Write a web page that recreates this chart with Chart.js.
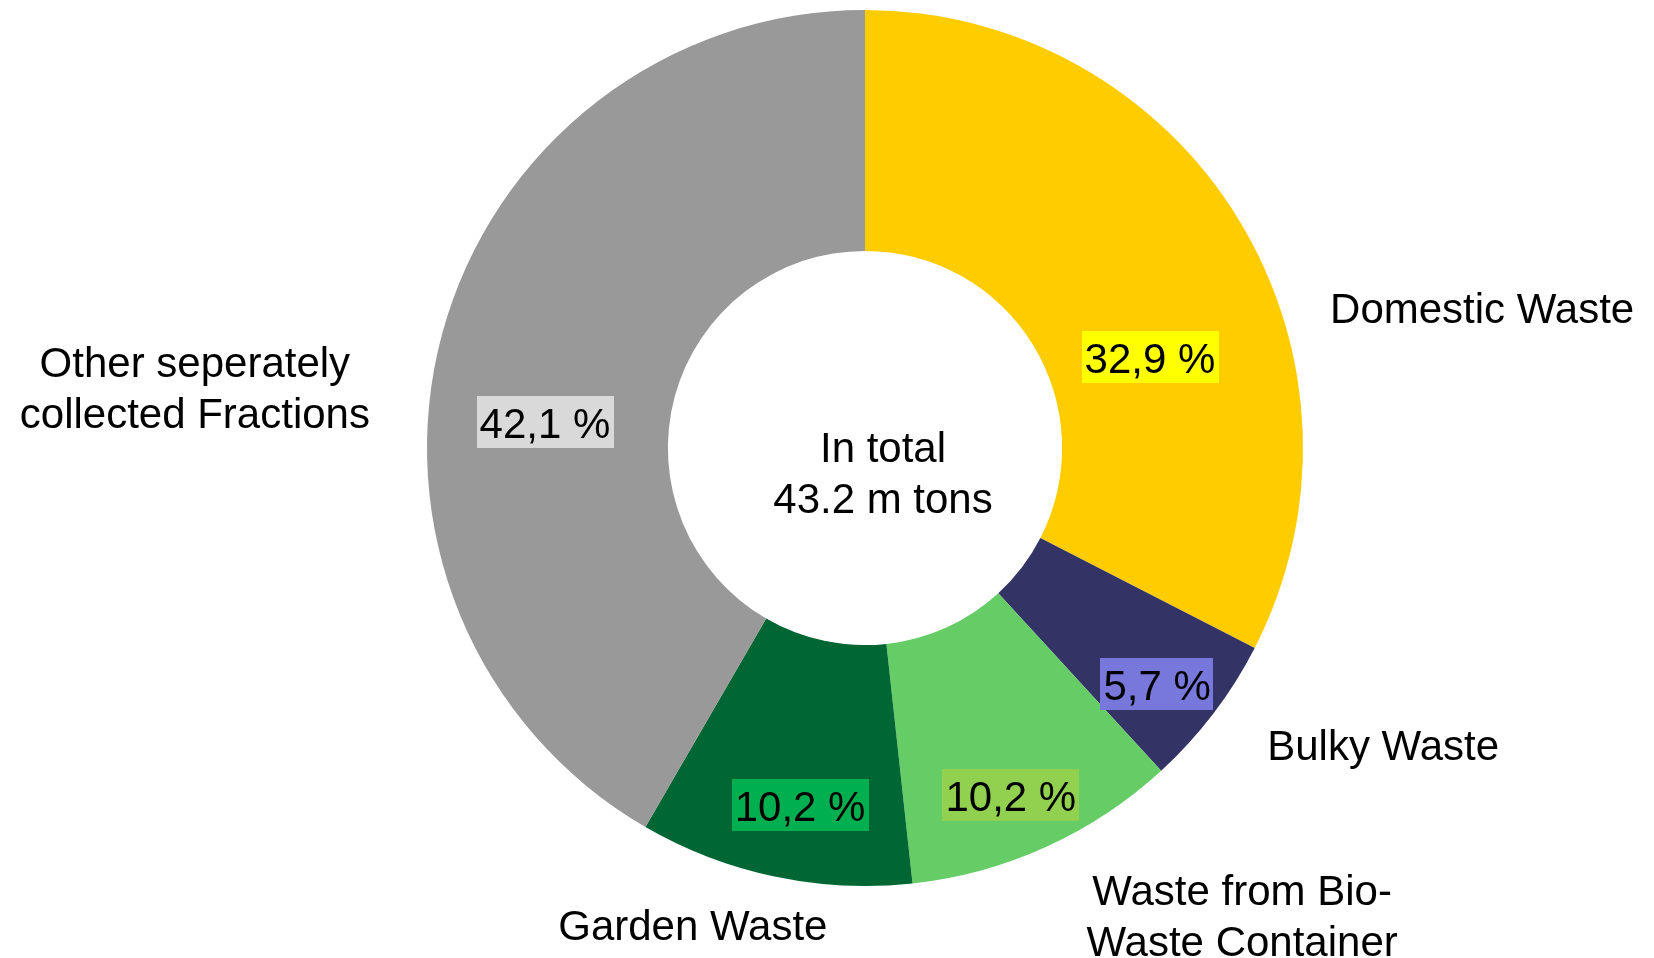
<!DOCTYPE html>
<html>
<head>
<meta charset="utf-8">
<script src="https://cdn.jsdelivr.net/npm/chart.js@4"></script>
<style>
  html, body { margin: 0; padding: 0; background: #ffffff; }
  #wrap { width: 1654px; height: 958px; }
</style>
</head>
<body>
<div id="wrap"><canvas id="wasteChart" width="1654" height="958"></canvas></div>
<script>
// Waste composition, share of total in percent (clockwise from 12 o'clock)
const categories = ['Domestic Waste', 'Bulky Waste', 'Waste from Bio-Waste Container', 'Garden Waste', 'Other seperately collected Fractions'];
const shares = [32.9, 5.7, 10.2, 10.2, 42.1];
const totalText = ['In total', '43.2 m tons'];

const sliceColors = ['#FFCC00', '#333366', '#66CC66', '#006633', '#999999'];
const boxColors = ['#FFFF00', '#7878DC', '#92D050', '#00B050', '#D9D9D9'];

// category names as they are wrapped beside the ring
const nameLines = [
    ['Domestic Waste'],
    ['Bulky Waste'],
    ['Waste from Bio-', 'Waste Container'],
    ['Garden Waste'],
    ['Other seperately', 'collected Fractions']
];

// where the value boxes sit: angle (deg, clockwise from top) and distance as part of outer radius
const valuePos = [[72.3, 0.683], [128.9, 0.857], [157.2, 0.859], [190.3, 0.829], [274.6, 0.733]];
// outer names: centre x and first baseline, offset from ring centre in units of outer radius
const namePos = [[1.409, -0.285], [1.183, 0.712], [0.861, 1.043], [-0.393, 1.123], [-1.530, -0.162]];

const FONT = '42px "Liberation Sans", Arial, sans-serif';
const LINE = 51;

const fmt = v => v.toFixed(1).replace('.', ',') + ' %';

const labelPlugin = {
    id: 'ringLabels',
    afterDatasetsDraw(chart) {
        const ctx = chart.ctx;
        const meta = chart.getDatasetMeta(0);
        const arc0 = meta.data[0];
        const cx = arc0.x, cy = arc0.y, R = arc0.outerRadius;
        ctx.save();
        ctx.font = FONT;
        ctx.fillStyle = '#000';

        // value boxes on the slices
        meta.data.forEach((arc, i) => {
            const a = valuePos[i][0] * Math.PI / 180;
            const r = valuePos[i][1] * R;
            const x = cx + Math.sin(a) * r;
            const y = cy - Math.cos(a) * r;
            const txt = fmt(shares[i]);
            const w = ctx.measureText(txt).width + 6;
            const h = 52;
            ctx.fillStyle = boxColors[i];
            ctx.fillRect(Math.round(x - w / 2), Math.round(y - h / 2), Math.round(w), h);
            ctx.fillStyle = '#000';
            ctx.textAlign = 'center';
            ctx.textBaseline = 'alphabetic';
            ctx.fillText(txt, x, y + 16);
        });

        // category names round the ring
        ctx.textAlign = 'center';
        ctx.textBaseline = 'alphabetic';
        nameLines.forEach((lines, i) => {
            const x = cx + namePos[i][0] * R;
            const y = cy + namePos[i][1] * R;
            lines.forEach((ln, k) => ctx.fillText(ln, x, y + k * LINE));
        });

        // total in the hole
        ctx.fillText(totalText[0], cx + 18, cy + 14);
        ctx.fillText(totalText[1], cx + 18, cy + 14 + LINE);
        ctx.restore();
    }
};

new Chart(document.getElementById('wasteChart').getContext('2d'), {
    type: 'doughnut',
    data: {
        labels: categories,
        datasets: [{
            data: shares,
            backgroundColor: sliceColors,
            borderWidth: 0
        }]
    },
    options: {
        responsive: false,
        animation: false,
        cutout: '45%',
        layout: { padding: { top: 10, bottom: 72, left: 76, right: 0 } },
        plugins: {
            legend: { display: false },
            tooltip: { enabled: false }
        }
    },
    plugins: [labelPlugin]
});
</script>
</body>
</html>
